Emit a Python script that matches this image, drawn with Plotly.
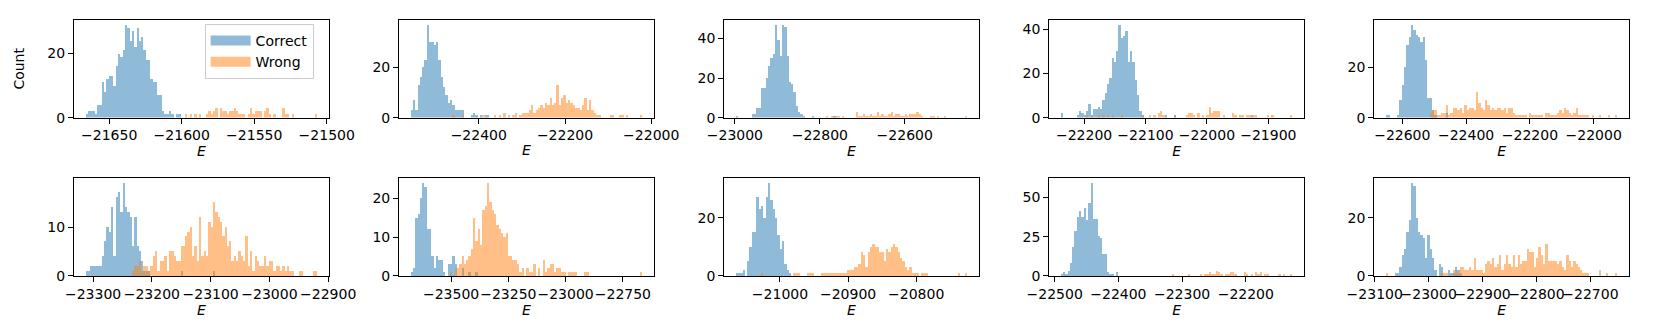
import numpy as np
import plotly.graph_objects as go
from plotly.subplots import make_subplots

# energy span (first / last bin edge) of each run, 100 common bins per panel
e_min = [-21666.3, -22558.0, -22998.1, -22238.0, -22651.7,
         -23312.8, -23676.5, -21065.0, -22490.5, -23079.5]
e_max = [-21506.6, -22020.9, -22452.7, -21860.9, -21925.7,
         -22918.7, -22665.5, -20725.0, -22126.9, -22650.0]

x_dtick = [50, 200, 200, 100, 200, 100, 250, 100, 100, 100]
y_dtick = [20, 20, 20, 20, 20, 10, 10, 20, 25, 20]

# counts per bin (bin 0 .. 99)
correct_1 = [1, 2, 2, 2, 1, 4, 4, 11, 8, 12,
             13, 13, 10, 16, 20, 19, 21, 29, 28, 24,
             27, 22, 28, 24, 25, 21, 18, 18, 12, 11,
             11, 7, 7, 2, 1, 1, 2, 1, 0, 1,
             1, 0, 0, 0, 0, 0, 0, 0, 0, 0,
             0, 0, 0, 0, 0, 0, 0, 0, 0, 0,
             0, 0, 0, 0, 0, 0, 0, 0, 0, 0,
             0, 0, 0, 0, 0, 0, 0, 0, 0, 0,
             0, 0, 0, 0, 0, 0, 0, 0, 0, 0,
             0, 0, 0, 0, 0, 0, 0, 0, 0, 0]
wrong_1 = [0, 0, 0, 0, 0, 0, 0, 0, 0, 0,
           0, 0, 0, 0, 0, 0, 0, 0, 0, 0,
           0, 0, 0, 0, 0, 0, 0, 0, 0, 0,
           0, 0, 0, 0, 0, 0, 0, 0, 0, 0,
           0, 0, 0, 1, 0, 1, 0, 1, 0, 1,
           0, 0, 1, 2, 1, 2, 3, 0, 3, 2,
           2, 1, 2, 2, 3, 2, 1, 1, 1, 0,
           1, 3, 1, 2, 2, 2, 0, 2, 3, 1,
           0, 1, 0, 0, 0, 3, 1, 1, 0, 1,
           0, 0, 0, 0, 0, 0, 0, 0, 0, 1]

correct_2 = [3, 7, 3, 13, 16, 20, 23, 37, 30, 30,
             29, 30, 23, 16, 12, 9, 6, 7, 5, 3,
             3, 3, 3, 0, 0, 0, 1, 2, 1, 0,
             1, 0, 1, 1, 0, 0, 0, 0, 0, 0,
             0, 0, 0, 0, 0, 0, 0, 0, 0, 0,
             0, 0, 0, 0, 0, 0, 0, 0, 0, 0,
             0, 0, 0, 0, 0, 0, 0, 0, 0, 0,
             0, 0, 0, 0, 0, 0, 0, 0, 0, 0,
             0, 0, 0, 0, 0, 0, 0, 0, 0, 0,
             0, 0, 0, 0, 0, 0, 0, 0, 0, 0]
wrong_2 = [0, 0, 0, 0, 0, 0, 0, 0, 0, 0,
           0, 0, 0, 0, 0, 0, 0, 0, 1, 0,
           0, 0, 1, 0, 0, 0, 0, 0, 0, 0,
           0, 1, 0, 0, 0, 0, 1, 0, 1, 0,
           2, 0, 1, 0, 1, 2, 0, 1, 2, 2,
           2, 3, 5, 2, 3, 4, 5, 4, 6, 5,
           8, 5, 6, 13, 5, 8, 9, 6, 7, 6,
           5, 4, 4, 3, 5, 8, 3, 7, 3, 2,
           1, 1, 0, 0, 0, 0, 1, 1, 0, 0,
           1, 1, 0, 1, 0, 0, 0, 0, 0, 1]

correct_3 = [1, 0, 0, 0, 0, 0, 0, 2, 2, 5,
             5, 15, 15, 20, 26, 30, 32, 47, 39, 31,
             47, 46, 31, 18, 17, 13, 6, 3, 2, 1,
             0, 0, 0, 1, 0, 0, 0, 0, 0, 0,
             0, 0, 1, 1, 0, 0, 0, 0, 0, 0,
             0, 0, 0, 0, 0, 0, 0, 0, 0, 0,
             0, 0, 0, 0, 0, 0, 0, 0, 0, 0,
             0, 0, 0, 0, 0, 0, 0, 0, 0, 0,
             0, 0, 0, 0, 0, 0, 0, 0, 0, 0,
             0, 0, 0, 0, 0, 0, 0, 0, 0, 0]
wrong_3 = [0, 0, 0, 0, 0, 0, 0, 0, 0, 0,
           0, 0, 0, 0, 0, 0, 0, 0, 0, 0,
           0, 0, 0, 0, 0, 0, 0, 0, 0, 0,
           0, 0, 0, 0, 0, 0, 0, 0, 0, 1,
           0, 1, 1, 0, 1, 0, 1, 0, 0, 0,
           0, 0, 3, 1, 1, 2, 1, 1, 2, 1,
           1, 3, 1, 2, 1, 1, 2, 3, 1, 2,
           2, 1, 1, 2, 1, 2, 2, 2, 3, 2,
           1, 0, 0, 0, 1, 1, 0, 1, 0, 0,
           1, 0, 0, 0, 0, 0, 0, 0, 0, 1]

correct_4 = [2, 0, 0, 0, 0, 0, 0, 1, 3, 2,
             1, 3, 6, 1, 4, 4, 5, 4, 8, 11,
             15, 18, 27, 25, 30, 42, 36, 37, 39, 25,
             30, 25, 17, 10, 3, 1, 0, 0, 0, 0,
             0, 0, 0, 0, 0, 1, 0, 0, 0, 1,
             0, 0, 0, 0, 0, 0, 0, 0, 0, 0,
             0, 0, 0, 0, 0, 0, 0, 0, 0, 0,
             0, 0, 0, 0, 0, 0, 0, 0, 0, 0,
             0, 0, 1, 0, 0, 0, 0, 0, 0, 0,
             0, 0, 0, 0, 0, 0, 0, 0, 0, 0]
wrong_4 = [0, 0, 0, 0, 0, 0, 0, 0, 0, 0,
           0, 1, 0, 1, 0, 0, 1, 0, 1, 0,
           1, 0, 1, 0, 0, 0, 1, 0, 0, 0,
           0, 0, 0, 0, 0, 1, 0, 0, 1, 0,
           1, 0, 2, 3, 1, 0, 0, 0, 0, 1,
           0, 0, 0, 0, 1, 2, 2, 1, 0, 2,
           0, 1, 0, 1, 5, 2, 3, 3, 3, 0,
           1, 0, 0, 0, 2, 1, 0, 1, 1, 0,
           1, 1, 0, 1, 1, 0, 0, 0, 0, 1,
           0, 1, 0, 0, 0, 0, 0, 0, 0, 1]

correct_5 = [1, 1, 0, 0, 0, 1, 7, 13, 20, 29,
             32, 37, 35, 33, 32, 30, 32, 23, 8, 8,
             3, 1, 0, 0, 0, 0, 2, 0, 0, 0,
             0, 0, 0, 0, 0, 0, 0, 0, 0, 0,
             0, 0, 0, 0, 0, 0, 0, 0, 0, 0,
             0, 0, 0, 0, 0, 0, 0, 0, 0, 0,
             0, 0, 0, 0, 0, 0, 0, 0, 0, 0,
             0, 0, 0, 0, 0, 0, 0, 0, 0, 0,
             0, 0, 0, 0, 0, 0, 0, 0, 0, 0,
             0, 0, 0, 0, 0, 0, 0, 0, 0, 0]
wrong_5 = [0, 0, 0, 0, 0, 0, 0, 0, 0, 0,
           0, 0, 0, 0, 0, 0, 0, 0, 0, 2,
           3, 3, 1, 1, 2, 2, 5, 1, 2, 4,
           4, 3, 4, 2, 5, 3, 4, 4, 3, 10,
           6, 4, 3, 7, 5, 3, 4, 3, 4, 4,
           3, 4, 2, 4, 4, 2, 1, 1, 1, 1,
           1, 0, 2, 1, 1, 1, 1, 1, 0, 2,
           2, 1, 1, 1, 2, 3, 2, 4, 3, 2,
           1, 2, 4, 1, 1, 1, 1, 1, 0, 1,
           0, 0, 1, 0, 0, 0, 1, 0, 0, 1]

correct_6 = [1, 1, 2, 2, 2, 2, 2, 4, 7, 10,
             9, 14, 4, 16, 17, 13, 19, 14, 13, 12,
             6, 12, 6, 5, 3, 1, 1, 1, 0, 0,
             0, 0, 0, 0, 0, 0, 0, 0, 0, 0,
             0, 1, 0, 0, 0, 0, 0, 0, 0, 0,
             0, 0, 0, 0, 0, 1, 0, 0, 0, 0,
             0, 0, 0, 0, 0, 0, 0, 0, 0, 0,
             0, 0, 0, 0, 0, 0, 0, 0, 0, 0,
             0, 0, 0, 0, 0, 0, 0, 0, 0, 0,
             0, 0, 0, 0, 0, 0, 0, 0, 0, 0]
wrong_6 = [0, 0, 0, 0, 0, 0, 0, 0, 0, 0,
           0, 0, 0, 0, 0, 0, 0, 0, 0, 0,
           1, 2, 2, 3, 1, 2, 2, 1, 2, 4,
           5, 1, 3, 3, 4, 1, 5, 5, 4, 3,
           3, 6, 6, 8, 9, 10, 4, 6, 3, 12,
           4, 5, 4, 11, 10, 15, 13, 12, 11, 8,
           10, 6, 7, 3, 4, 3, 5, 4, 3, 8,
           2, 5, 1, 4, 3, 2, 2, 4, 2, 3,
           3, 1, 2, 2, 1, 2, 1, 2, 1, 1,
           0, 0, 1, 1, 0, 0, 0, 0, 1, 1]

correct_7 = [1, 2, 15, 16, 20, 24, 23, 12, 12, 5,
             2, 5, 4, 4, 1, 0, 3, 3, 5, 3,
             0, 0, 2, 0, 0, 1, 0, 0, 1, 0,
             0, 0, 0, 0, 0, 0, 0, 0, 0, 0,
             0, 0, 0, 0, 0, 0, 0, 0, 0, 0,
             0, 0, 0, 0, 0, 0, 0, 0, 0, 0,
             0, 0, 0, 0, 0, 0, 0, 0, 0, 0,
             0, 0, 0, 0, 0, 0, 0, 0, 0, 0,
             0, 0, 0, 0, 0, 0, 0, 0, 0, 0,
             0, 0, 0, 0, 0, 0, 0, 0, 0, 0]
wrong_7 = [0, 0, 0, 0, 0, 0, 0, 0, 0, 0,
           0, 0, 0, 0, 0, 0, 0, 1, 0, 2,
           2, 3, 5, 3, 4, 5, 7, 15, 9, 12,
           8, 17, 18, 24, 19, 17, 16, 13, 12, 11,
           10, 11, 5, 5, 4, 4, 3, 1, 2, 0,
           2, 1, 1, 3, 0, 2, 0, 4, 1, 2,
           3, 3, 1, 2, 2, 1, 1, 0, 1, 1,
           1, 1, 0, 0, 0, 1, 1, 0, 0, 0,
           0, 0, 0, 0, 0, 0, 0, 0, 0, 0,
           0, 0, 0, 0, 0, 0, 0, 0, 0, 1]

correct_8 = [1, 1, 1, 2, 0, 5, 10, 15, 15, 27,
             23, 24, 20, 27, 32, 26, 23, 20, 14, 9,
             12, 4, 2, 1, 0, 0, 0, 0, 0, 0,
             0, 0, 0, 0, 0, 0, 0, 0, 0, 0,
             0, 0, 0, 0, 0, 0, 0, 0, 0, 0,
             0, 0, 0, 0, 0, 0, 0, 0, 0, 0,
             0, 0, 0, 0, 0, 0, 0, 0, 0, 0,
             0, 0, 0, 0, 0, 0, 0, 0, 0, 0,
             0, 0, 0, 0, 0, 0, 0, 0, 0, 0,
             0, 0, 0, 0, 0, 0, 0, 0, 0, 0]
wrong_8 = [0, 0, 0, 0, 0, 0, 0, 0, 0, 0,
           0, 1, 0, 0, 0, 0, 0, 0, 0, 0,
           0, 0, 0, 0, 0, 1, 1, 1, 0, 0,
           0, 1, 1, 1, 0, 0, 0, 1, 1, 1,
           1, 1, 1, 1, 1, 1, 1, 1, 2, 2,
           2, 3, 3, 4, 8, 7, 3, 8, 10, 11,
           10, 10, 8, 8, 5, 9, 8, 10, 11, 10,
           8, 6, 5, 3, 2, 3, 1, 1, 1, 0,
           1, 1, 1, 0, 0, 0, 0, 0, 0, 0,
           0, 0, 0, 0, 0, 0, 1, 0, 0, 1]

correct_9 = [1, 2, 1, 3, 8, 18, 28, 37, 41, 37,
             43, 35, 46, 59, 36, 36, 25, 24, 14, 14,
             2, 1, 1, 0, 2, 0, 0, 0, 0, 0,
             0, 0, 0, 0, 0, 0, 0, 0, 0, 0,
             0, 0, 0, 0, 0, 0, 0, 0, 0, 0,
             0, 0, 0, 0, 0, 0, 0, 0, 0, 0,
             0, 0, 0, 0, 0, 0, 0, 0, 0, 0,
             0, 0, 0, 0, 0, 0, 0, 0, 0, 0,
             0, 0, 0, 0, 0, 0, 0, 0, 0, 0,
             0, 0, 0, 0, 0, 0, 0, 0, 0, 0]
wrong_9 = [0, 0, 0, 0, 0, 0, 0, 0, 0, 0,
           0, 0, 0, 0, 0, 0, 0, 0, 0, 0,
           0, 0, 0, 0, 0, 0, 0, 0, 0, 0,
           0, 0, 0, 0, 0, 0, 0, 0, 0, 0,
           0, 0, 0, 0, 0, 0, 0, 0, 1, 0,
           0, 0, 0, 0, 0, 1, 0, 0, 0, 0,
           1, 0, 1, 1, 2, 1, 1, 3, 2, 1,
           0, 1, 1, 2, 2, 1, 0, 0, 0, 2,
           1, 0, 1, 0, 2, 1, 2, 0, 1, 1,
           0, 0, 0, 0, 1, 0, 1, 0, 0, 1]

correct_10 = [0, 0, 0, 0, 1, 1, 3, 7, 9, 15,
              19, 32, 31, 20, 15, 14, 13, 6, 14, 9,
              6, 2, 0, 4, 3, 0, 0, 2, 1, 1,
              3, 2, 1, 0, 0, 0, 0, 0, 0, 0,
              0, 0, 0, 0, 0, 0, 0, 0, 0, 0,
              0, 0, 0, 0, 0, 0, 0, 0, 0, 0,
              0, 0, 0, 0, 0, 0, 0, 0, 0, 0,
              0, 0, 0, 0, 0, 0, 0, 0, 0, 0,
              0, 0, 0, 0, 0, 0, 0, 0, 0, 0,
              0, 0, 0, 0, 0, 0, 0, 0, 0, 0]
wrong_10 = [1, 0, 0, 0, 0, 0, 0, 0, 0, 0,
            0, 0, 0, 0, 0, 0, 0, 0, 0, 0,
            0, 0, 0, 0, 1, 1, 1, 0, 0, 2,
            2, 1, 3, 3, 2, 2, 3, 2, 6, 2,
            2, 2, 1, 4, 5, 4, 6, 3, 4, 7,
            2, 4, 7, 4, 3, 7, 3, 7, 4, 5,
            5, 9, 8, 8, 3, 6, 10, 7, 4, 11,
            5, 5, 5, 5, 4, 5, 3, 2, 7, 5,
            3, 5, 4, 3, 2, 1, 1, 1, 0, 0,
            0, 0, 2, 0, 0, 1, 0, 0, 0, 1]

correct_all = [correct_1, correct_2, correct_3, correct_4, correct_5,
               correct_6, correct_7, correct_8, correct_9, correct_10]
wrong_all = [wrong_1, wrong_2, wrong_3, wrong_4, wrong_5,
             wrong_6, wrong_7, wrong_8, wrong_9, wrong_10]

BLUE = '#1f77b4'
ORANGE = '#ff7f0e'
FONT = 'DejaVu Sans'

fig = make_subplots(rows=2, cols=5,
                    horizontal_spacing=0.0452,
                    vertical_spacing=0.2374)

for i in range(10):
    row, col = i // 5 + 1, i % 5 + 1
    edges = np.linspace(e_min[i], e_max[i], 101)
    centers = (edges[:-1] + edges[1:]) / 2
    width = edges[1] - edges[0]

    for counts, color in [(correct_all[i], BLUE), (wrong_all[i], ORANGE)]:
        fig.add_trace(go.Bar(
            x=centers, y=counts, width=width, showlegend=False,
            marker=dict(color=color, opacity=0.5, line=dict(width=0)),
        ), row=row, col=col)

    span = e_max[i] - e_min[i]
    ymax = max(max(correct_all[i]), max(wrong_all[i])) * 1.05

    fig.update_xaxes(
        range=[e_min[i] - 0.05 * span, e_max[i] + 0.05 * span],
        tickmode='linear', tick0=0, dtick=x_dtick[i],
        exponentformat='none', tickangle=0,
        title=dict(text='<i>E</i>', standoff=2,
                   font=dict(family=FONT, size=14, color='black')),
        row=row, col=col)
    fig.update_yaxes(
        range=[0, ymax],
        tickmode='linear', tick0=0, dtick=y_dtick[i],
        row=row, col=col)

# legend entries (wide patches like matplotlib)
for name, rgba in [('Correct', 'rgba(31,119,180,0.5)'),
                   ('Wrong', 'rgba(255,127,14,0.5)')]:
    fig.add_trace(go.Scatter(x=[None], y=[None], mode='lines', name=name,
                             line=dict(color=rgba, width=10)),
                  row=1, col=1)

fig.update_xaxes(showline=True, linecolor='black', linewidth=1, mirror=True,
                 ticks='outside', ticklen=5, tickwidth=1, tickcolor='black',
                 showgrid=False, zeroline=False,
                 tickfont=dict(family=FONT, size=14, color='black'))
fig.update_yaxes(showline=True, linecolor='black', linewidth=1, mirror=True,
                 ticks='outside', ticklen=5, tickwidth=1, tickcolor='black',
                 showgrid=False, zeroline=False,
                 tickfont=dict(family=FONT, size=14, color='black'))
fig.update_yaxes(title=dict(text='Count', standoff=19,
                            font=dict(family=FONT, size=14, color='black')),
                 row=1, col=1)

fig.update_layout(
    width=1660, height=324,
    margin=dict(l=62, r=11, t=11, b=56),
    barmode='overlay', bargap=0,
    separators='.',
    plot_bgcolor='white', paper_bgcolor='white',
    font=dict(family=FONT, size=14, color='black'),
    legend=dict(x=0.084, y=0.985, xanchor='left', yanchor='top',
                bgcolor='rgba(255,255,255,0.8)', bordercolor='#cccccc',
                borderwidth=1, font=dict(family=FONT, size=14),
                tracegroupgap=2, itemwidth=40),
)

fig.write_html("out.html")
